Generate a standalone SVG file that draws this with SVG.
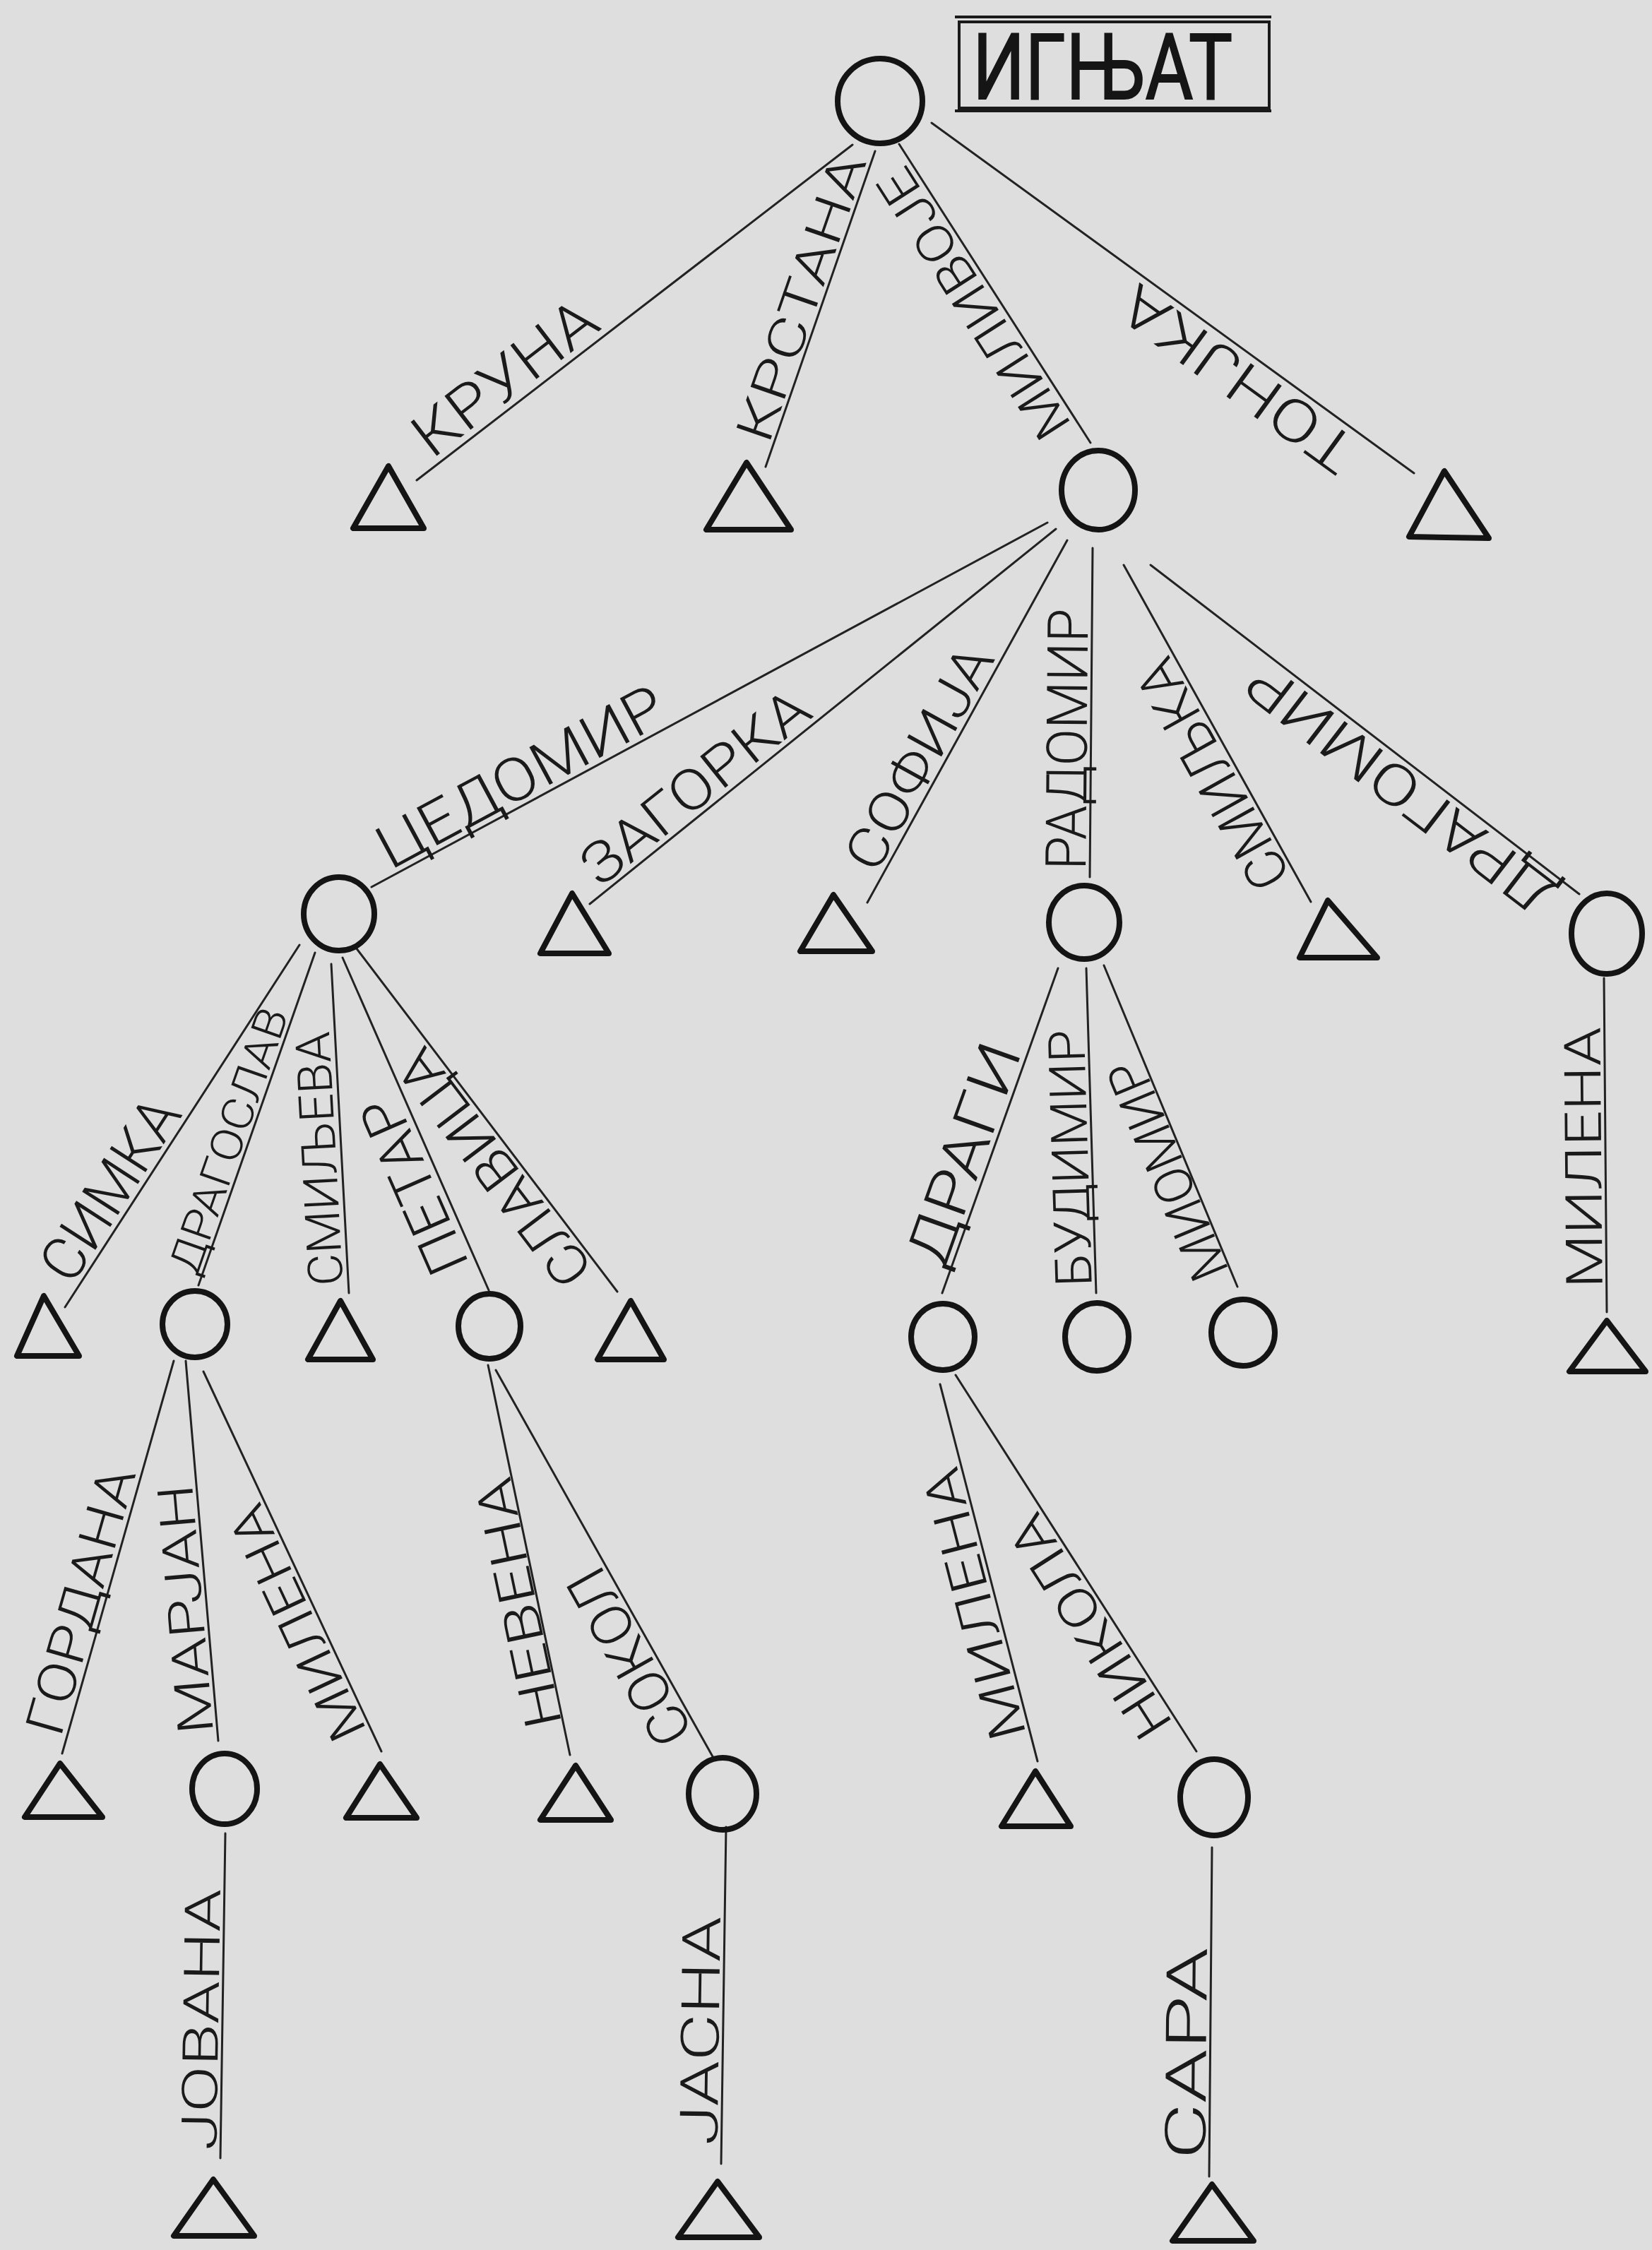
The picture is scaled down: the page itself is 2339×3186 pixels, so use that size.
<svg xmlns="http://www.w3.org/2000/svg" width="2339" height="3186" viewBox="0 0 2339 3186">
<style>
.bg{fill:#dedede}
.edge line{stroke:#222;stroke-width:3;fill:none;stroke-linecap:round}
.node ellipse,.node polygon{fill:none;stroke:#141414;stroke-width:8;stroke-linejoin:round}
.lbl{font-family:Roboto,"Open Sans","Liberation Sans",sans-serif;font-weight:300;fill:#1a1a1a}
.title{font-family:Roboto,"Liberation Sans",sans-serif;font-weight:400;fill:#151515;stroke:#151515;stroke-width:2}
.box{fill:none;stroke:#1a1a1a;stroke-width:4}
</style>
<rect class="bg" x="0" y="0" width="2339" height="3186"/>

<g id="connectors">
  <g class="edge" id="e-kruna"><line x1="1207" y1="205" x2="590" y2="680"/>
    <text class="lbl" transform="translate(617.7,658.6) rotate(-37.6)" y="-10" font-size="85" textLength="305" lengthAdjust="spacingAndGlyphs">КРУНА</text></g>
  <g class="edge" id="e-krstana"><line x1="1239" y1="214" x2="1084" y2="661"/>
    <text class="lbl" transform="translate(1093.8,632.7) rotate(-70.9)" y="-6" font-size="72" textLength="425" lengthAdjust="spacingAndGlyphs">КРСТАНА</text></g>
  <g class="edge" id="e-milivoje"><line x1="1273" y1="204" x2="1544" y2="627"/>
    <text class="lbl" transform="translate(1525.1,597.5) rotate(-122.6)" y="-8" font-size="72" textLength="440" lengthAdjust="spacingAndGlyphs">МИЛИВОЈЕ</text></g>
  <g class="edge" id="e-tonjka"><line x1="1319" y1="174" x2="2002" y2="670"/>
    <text class="lbl" transform="translate(1933.2,620.1) rotate(-144)" y="-10" font-size="82" textLength="390" lengthAdjust="spacingAndGlyphs">ТОНЈКА</text></g>

  <g class="edge" id="e-cedomir"><line x1="1483" y1="740" x2="526" y2="1256"/>
    <text class="lbl" transform="translate(556.8,1239.4) rotate(-28.3)" y="-8" font-size="85" textLength="450" lengthAdjust="spacingAndGlyphs">ЦЕДОМИР</text></g>
  <g class="edge" id="e-zagorka"><line x1="1495" y1="749" x2="835" y2="1280"/>
    <text class="lbl" transform="translate(854.5,1264.3) rotate(-38.8)" y="-8" font-size="80" textLength="390" lengthAdjust="spacingAndGlyphs">ЗАГОРКА</text></g>
  <g class="edge" id="e-sofija"><line x1="1511" y1="765" x2="1228" y2="1278"/>
    <text class="lbl" transform="translate(1247.3,1243) rotate(-61.1)" y="-8" font-size="78" textLength="350" lengthAdjust="spacingAndGlyphs">СОФИЈА</text></g>
  <g class="edge" id="e-radomir"><line x1="1547" y1="776" x2="1543" y2="1242"/>
    <text class="lbl" transform="translate(1543.1,1232) rotate(-89.5)" y="-6" font-size="80" textLength="370" lengthAdjust="spacingAndGlyphs">РАДОМИР</text></g>
  <g class="edge" id="e-smiljka"><line x1="1591" y1="800" x2="1856" y2="1277"/>
    <text class="lbl" transform="translate(1834.1,1237.7) rotate(-119.1)" y="-6" font-size="80" textLength="360" lengthAdjust="spacingAndGlyphs">СМИЉКА</text></g>
  <g class="edge" id="e-dragomir"><line x1="1629" y1="800" x2="2236" y2="1266"/>
    <text class="lbl" transform="translate(2216.2,1250.8) rotate(-142.5)" y="-8" font-size="80" textLength="530" lengthAdjust="spacingAndGlyphs">ДРАГОМИР</text></g>

  <g class="edge" id="e-simka"><line x1="424" y1="1338" x2="92" y2="1851"/>
    <text class="lbl" transform="translate(108.3,1825.8) rotate(-57.1)" y="-8" font-size="85" textLength="290" lengthAdjust="spacingAndGlyphs">СИМКА</text></g>
  <g class="edge" id="e-dragoslav"><line x1="446" y1="1349" x2="281" y2="1820"/>
    <text class="lbl" transform="translate(284.3,1810.6) rotate(-70.7)" y="-6" font-size="62" textLength="395" lengthAdjust="spacingAndGlyphs">ДРАГОСЛАВ</text></g>
  <g class="edge" id="e-smiljeva"><line x1="469" y1="1365" x2="494" y2="1831"/>
    <text class="lbl" transform="translate(493.4,1819) rotate(-93.1)" y="-8" font-size="68" textLength="360" lengthAdjust="spacingAndGlyphs">СМИЉЕВА</text></g>
  <g class="edge" id="e-petar"><line x1="485" y1="1356" x2="692" y2="1827"/>
    <text class="lbl" transform="translate(673.9,1785.8) rotate(-113.7)" y="-10" font-size="80" textLength="265" lengthAdjust="spacingAndGlyphs">ПЕТАР</text></g>
  <g class="edge" id="e-slavica"><line x1="504" y1="1342" x2="874" y2="1829"/>
    <text class="lbl" transform="translate(846.8,1793.2) rotate(-127.2)" y="-6" font-size="78" textLength="400" lengthAdjust="spacingAndGlyphs">СЛАВИЦА</text></g>

  <g class="edge" id="e-dragi"><line x1="1498" y1="1371" x2="1334" y2="1831"/>
    <text class="lbl" transform="translate(1344.1,1802.7) rotate(-70.4)" y="-8" font-size="85" textLength="330" lengthAdjust="spacingAndGlyphs">ДРАГИ</text></g>
  <g class="edge" id="e-budimir"><line x1="1538" y1="1371" x2="1552" y2="1831"/>
    <text class="lbl" transform="translate(1551.7,1821) rotate(-91.7)" y="-6" font-size="72" textLength="364" lengthAdjust="spacingAndGlyphs">БУДИМИР</text></g>
  <g class="edge" id="e-miomir"><line x1="1563" y1="1367" x2="1752" y2="1822"/>
    <text class="lbl" transform="translate(1742.4,1798.9) rotate(-112.6)" y="-2" font-size="75" textLength="330" lengthAdjust="spacingAndGlyphs">МИОМИР</text></g>
  <g class="edge" id="e-milena-4"><line x1="2271" y1="1385" x2="2275" y2="1858"/>
    <text class="lbl" transform="translate(2274.7,1824) rotate(-90.5)" y="-6" font-size="72" textLength="370" lengthAdjust="spacingAndGlyphs">МИЛЕНА</text></g>

  <g class="edge" id="e-gordana"><line x1="246" y1="1927" x2="88" y2="2483"/>
    <text class="lbl" transform="translate(93.5,2463.8) rotate(-74.1)" y="-8" font-size="75" textLength="390" lengthAdjust="spacingAndGlyphs">ГОРДАНА</text></g>
  <g class="edge" id="e-marjan"><line x1="263" y1="1927" x2="309" y2="2465"/>
    <text class="lbl" transform="translate(308,2453) rotate(-94.9)" y="-6" font-size="70" textLength="355" lengthAdjust="spacingAndGlyphs">МАРЈАН</text></g>
  <g class="edge" id="e-milena-1"><line x1="288" y1="1942" x2="540" y2="2480"/>
    <text class="lbl" transform="translate(525.2,2448.3) rotate(-115.1)" y="-6" font-size="72" textLength="360" lengthAdjust="spacingAndGlyphs">МИЛЕНА</text></g>
  <g class="edge" id="e-nevena"><line x1="691" y1="1933" x2="807" y2="2485"/>
    <text class="lbl" transform="translate(797.7,2441) rotate(-101.9)" y="-2" font-size="72" textLength="360" lengthAdjust="spacingAndGlyphs">НЕВЕНА</text></g>
  <g class="edge" id="e-sokol"><line x1="702" y1="1940" x2="1010" y2="2489"/>
    <text class="lbl" transform="translate(988,2449.8) rotate(-119.3)" y="-6" font-size="80" textLength="275" lengthAdjust="spacingAndGlyphs">СОКОЛ</text></g>
  <g class="edge" id="e-milena-2"><line x1="1331" y1="1960" x2="1469" y2="2494"/>
    <text class="lbl" transform="translate(1459,2455.3) rotate(-104.5)" y="-6" font-size="72" textLength="395" lengthAdjust="spacingAndGlyphs">МИЛЕНА</text></g>
  <g class="edge" id="e-nikola"><line x1="1353" y1="1947" x2="1694" y2="2480"/>
    <text class="lbl" transform="translate(1667,2437.9) rotate(-122.6)" y="-6" font-size="75" textLength="360" lengthAdjust="spacingAndGlyphs">НИКОЛА</text></g>

  <g class="edge" id="e-jovana"><line x1="319" y1="2596" x2="312" y2="3056"/>
    <text class="lbl" transform="translate(312.2,3045) rotate(-89.1)" y="-6" font-size="70" textLength="370" lengthAdjust="spacingAndGlyphs">ЈОВАНА</text></g>
  <g class="edge" id="e-jasna"><line x1="1028" y1="2587" x2="1021" y2="3064"/>
    <text class="lbl" transform="translate(1021.4,3038) rotate(-89.2)" y="-6" font-size="75" textLength="324" lengthAdjust="spacingAndGlyphs">ЈАСНА</text></g>
  <g class="edge" id="e-sara"><line x1="1716" y1="2616" x2="1712" y2="3082"/>
    <text class="lbl" transform="translate(1712.2,3058) rotate(-89.5)" y="-6" font-size="80" textLength="300" lengthAdjust="spacingAndGlyphs">САРА</text></g>
</g>

<g id="n-ignjat" class="node">
  <ellipse cx="1246" cy="143" rx="60" ry="60"/>
</g>
<g id="title-box">
  <rect class="box" x="1358" y="31" width="439" height="122"/>
  <line x1="1352" y1="24" x2="1800" y2="24" stroke="#1a1a1a" stroke-width="4"/>
  <line x1="1352" y1="157" x2="1800" y2="157" stroke="#1a1a1a" stroke-width="4"/>
  <text class="title" x="1377" y="140" font-size="130" textLength="368" lengthAdjust="spacingAndGlyphs">ИГЊАТ</text>
</g>

<g id="n-kruna" class="node"><polygon points="550,660 500,748 600,748"/></g>
<g id="n-krstana" class="node"><polygon points="1057,655 1000,750 1120,750"/></g>
<g id="n-milivoje" class="node"><ellipse cx="1555" cy="694" rx="52" ry="56"/></g>
<g id="n-tonjka" class="node"><polygon points="2045,667 1995,760 2108,762"/></g>

<g id="n-cedomir" class="node"><ellipse cx="480" cy="1294" rx="50" ry="52"/></g>
<g id="n-zagorka" class="node"><polygon points="810,1265 765,1350 862,1350"/></g>
<g id="n-sofija" class="node"><polygon points="1180,1267 1133,1347 1235,1347"/></g>
<g id="n-radomir" class="node"><ellipse cx="1535" cy="1306" rx="50" ry="52"/></g>
<g id="n-smiljka" class="node"><polygon points="1880,1275 1840,1356 1950,1356"/></g>
<g id="n-dragomir" class="node"><ellipse cx="2275" cy="1322" rx="50" ry="57"/></g>

<g id="n-simka" class="node"><polygon points="62,1835 24,1920 112,1920"/></g>
<g id="n-dragoslav" class="node"><ellipse cx="276" cy="1875" rx="46" ry="47"/></g>
<g id="n-smiljeva" class="node"><polygon points="482,1842 436,1925 528,1925"/></g>
<g id="n-petar" class="node"><ellipse cx="693" cy="1878" rx="44" ry="46"/></g>
<g id="n-slavica" class="node"><polygon points="893,1842 846,1925 940,1925"/></g>

<g id="n-dragi" class="node"><ellipse cx="1335" cy="1893" rx="45" ry="47"/></g>
<g id="n-budimir" class="node"><ellipse cx="1553" cy="1893" rx="45" ry="48"/></g>
<g id="n-miomir" class="node"><ellipse cx="1760" cy="1887" rx="45" ry="47"/></g>
<g id="n-milena-4" class="node"><polygon points="2275,1870 2222,1942 2330,1942"/></g>

<g id="n-gordana" class="node"><polygon points="85,2497 35,2573 145,2573"/></g>
<g id="n-marjan" class="node"><ellipse cx="318" cy="2533" rx="46" ry="50"/></g>
<g id="n-milena-1" class="node"><polygon points="538,2498 490,2574 590,2574"/></g>
<g id="n-nevena" class="node"><polygon points="815,2500 765,2577 865,2577"/></g>
<g id="n-sokol" class="node"><ellipse cx="1023" cy="2540" rx="48" ry="51"/></g>
<g id="n-milena-2" class="node"><polygon points="1466,2508 1418,2586 1516,2586"/></g>
<g id="n-nikola" class="node"><ellipse cx="1719" cy="2545" rx="48" ry="54"/></g>

<g id="n-jovana" class="node"><polygon points="302,3086 246,3166 360,3166"/></g>
<g id="n-jasna" class="node"><polygon points="1016,3089 960,3168 1075,3168"/></g>
<g id="n-sara" class="node"><polygon points="1716,3093 1660,3173 1775,3173"/></g>
</svg>
